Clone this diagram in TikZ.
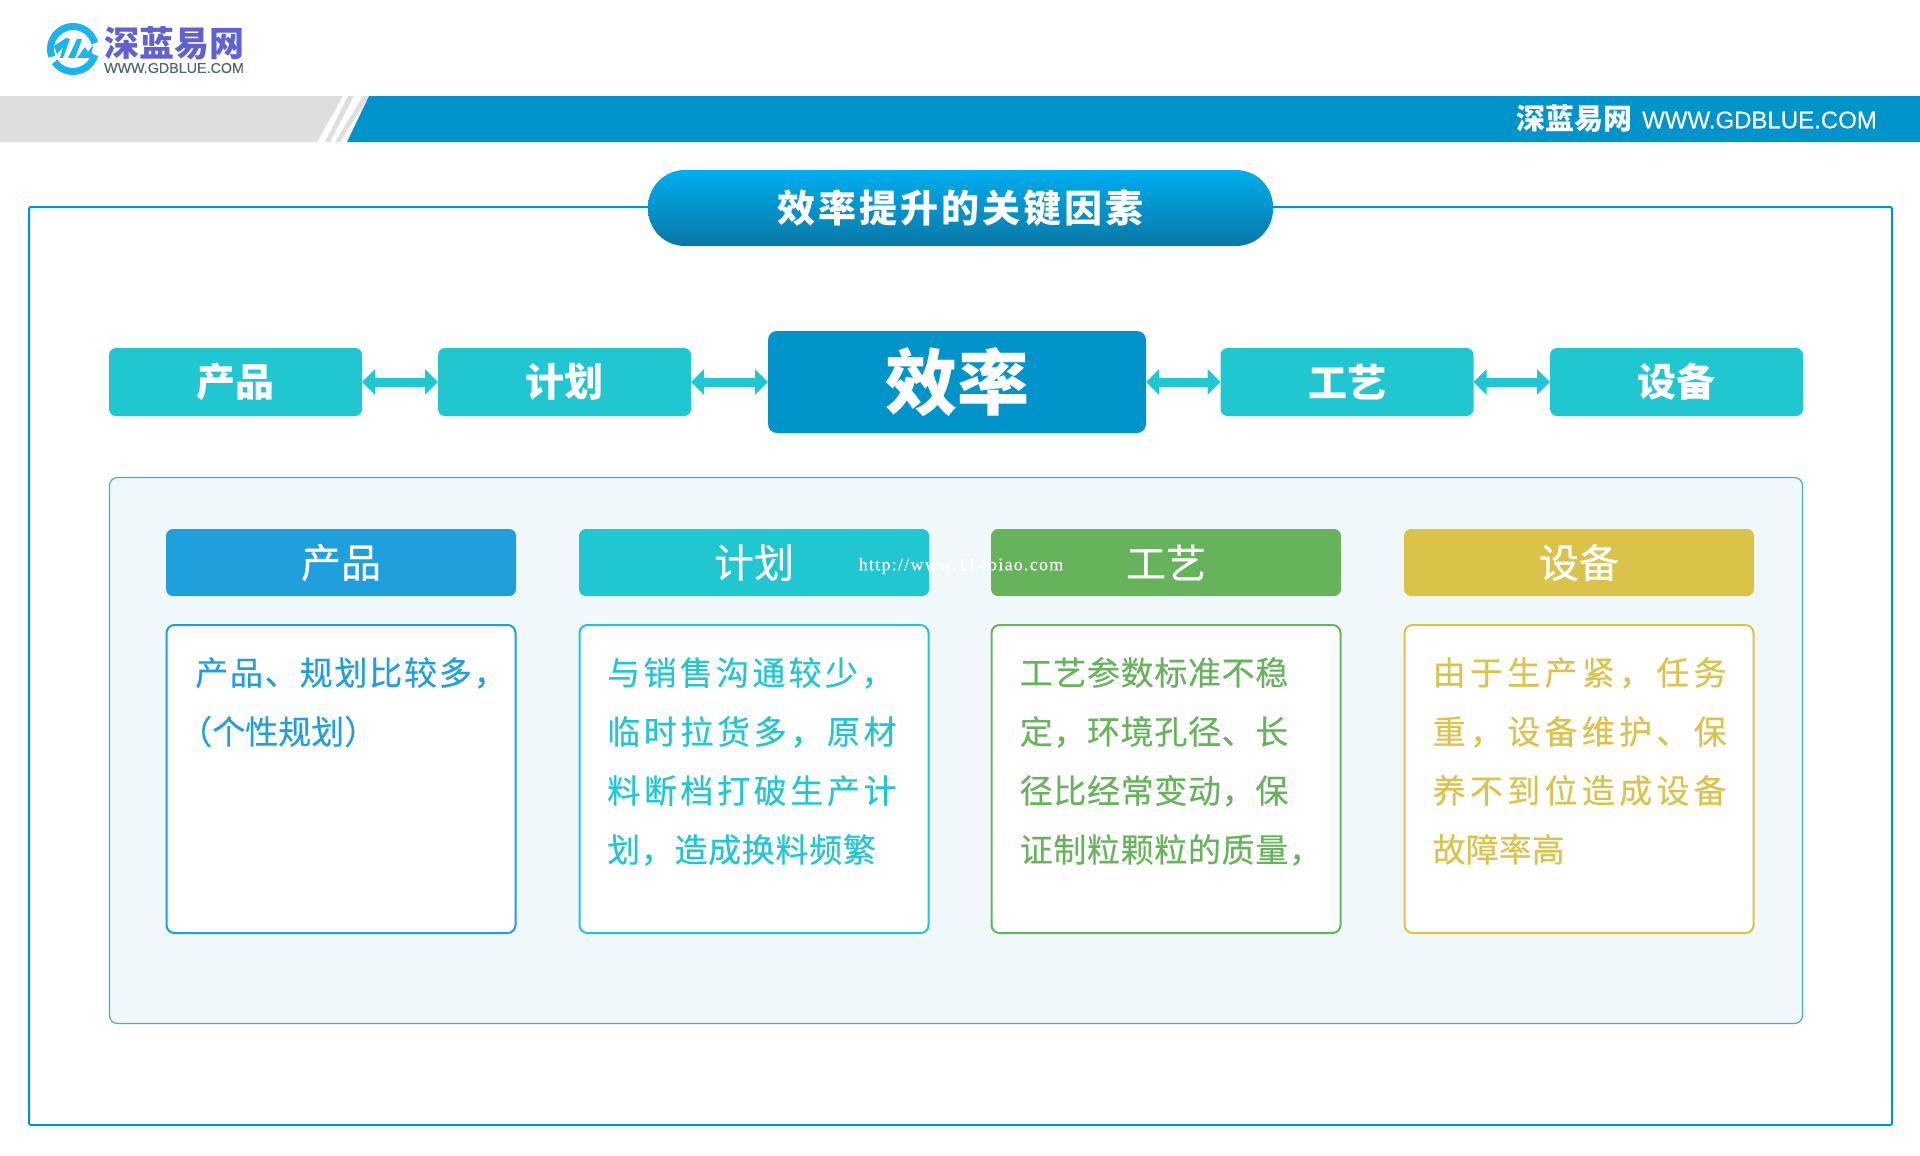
\documentclass[tikz,border=0pt]{standalone}
\usepackage{fontspec}
\setmainfont{Noto Sans CJK SC}
\newfontfamily\cjkbody[FakeBold=0.25]{Noto Sans CJK SC}
\newfontfamily\cjkhead[FakeBold=0.5]{Noto Sans CJK SC}
\newfontfamily\enfont[FakeBold=0.3]{Liberation Sans}
\newfontfamily\wmfont[LetterSpace=7,FakeBold=0.15]{Liberation Serif}
\usetikzlibrary{arrows.meta}
\definecolor{bandblue}{HTML}{0094CB}
\definecolor{teal1}{HTML}{20C7D1}
\definecolor{blue1}{HTML}{1FA0DD}
\definecolor{green1}{HTML}{66B35C}
\definecolor{yellow1}{HTML}{DBC34A}
\definecolor{logoblue}{HTML}{1AB4EE}
\definecolor{logopurple}{HTML}{6161D1}
\definecolor{logogrey}{HTML}{4F6670}
\definecolor{titletop}{HTML}{00AEEF}
\definecolor{titlebottom}{HTML}{0A78A6}
\definecolor{panelline}{HTML}{45ADCB}
\definecolor{panelfill}{HTML}{F1F8FC}
\newcommand{\spaced}[2]{{\addfontfeature{LetterSpace=#1}#2}}
\tikzset{
  topbox/.style={fill=teal1, rounded corners=7pt, minimum width=253pt, minimum height=68pt, inner sep=0pt, outer sep=0pt, text=white, font=\fontsize{39}{46}\selectfont\bfseries},
  headbox/.style={fill=#1, rounded corners=7pt, minimum width=350pt, minimum height=67pt, inner sep=0pt, outer sep=0pt, text=white, font=\cjkhead\fontsize{40}{46}\selectfont},
  bodybox/.style={draw=#1, fill=white, line width=2pt, rounded corners=8pt, minimum width=349pt, minimum height=308pt, inner sep=0pt},
  bodytext/.style={text=#1, anchor=north west, inner sep=0pt, align=left, font=\cjkbody\fontsize{33}{59}\selectfont},
  biarrow/.style={draw=teal1, line width=9pt, {Triangle[length=13pt,width=25pt]}-{Triangle[length=13pt,width=25pt]}},
}
\begin{document}
\begin{tikzpicture}[x=1pt,y=-1pt]
\useasboundingbox (0,0) rectangle (1920,1156);
% band
\fill[gray!26] (0,96)--(343,96)--(317,142)--(0,142)--cycle;
\fill[gray!26] (348,96)--(354,96)--(330,142)--(325,142)--cycle;
\fill[gray!26] (363,96)--(369,96)--(340,142)--(335,142)--cycle;
\fill[bandblue] (369,96)--(1920,96)--(1920,142)--(347,142)--cycle;
\node[text=white, font=\fontsize{29}{34}\selectfont\bfseries] (bandcn) at (1574,119) {深蓝易网};
\node[text=white, font=\enfont\fontsize{24}{30}\selectfont] (bandurl) at (1759.5,120) {WWW.GDBLUE.COM};
% logo
\draw[logoblue, line width=7pt] (73,49) +(-200:22.5) arc (-200:-15:22.5);
\draw[logoblue, line width=7pt] (73,49) +(-215:22.5) arc (-215:-345:22.5);
\fill[logoblue] (54,46)--(66,38)--(70,39)--(63,58)--(60,58)--(63,47)--(57,54)--cycle;
\fill[logoblue] (68,58)--(77,39)--(82,39)--(75,58)--cycle;
\fill[logoblue] (77,58)--(85,47)--(88,52)--(93,45)--(91,58)--cycle;
\node[text=logopurple, font=\fontsize{35}{40}\selectfont\bfseries] (logocn) at (174,43) {深蓝易网};
\node[text=logogrey, font=\enfont\fontsize{14.3}{18}\selectfont] (logourl) at (174,68) {WWW.GDBLUE.COM};
% frame and title
\draw[bandblue, line width=2pt, rounded corners=2pt] (29,207) rectangle (1892,1125);
\node[rounded corners=37pt, top color=titletop, bottom color=titlebottom, minimum width=625pt, minimum height=76pt, inner sep=0pt, text=white, font=\fontsize{38}{46}\selectfont\bfseries\addfontfeature{LetterSpace=8}] (title) at (960.5,208) {效率提升的关键因素};
% top row
\node[topbox] (prod) at (235.5,382) {产品};
\node[topbox] (plan) at (564.5,382) {计划};
\node[topbox, fill=bandblue, rounded corners=9pt, minimum width=378pt, minimum height=102pt, font=\fontsize{72}{80}\selectfont\bfseries] (eff) at (957,382) {效率};
\node[topbox] (craft) at (1347,382) {工艺};
\node[topbox] (equip) at (1676.5,382) {设备};
\foreach \a/\b in {prod/plan, plan/eff, eff/craft, craft/equip}
\draw[biarrow] (\a)--(\b);
% panel
\draw[draw=panelline, fill=panelfill, line width=1.2pt, rounded corners=8pt] (109.5,477.5) rectangle (1802.5,1023.5);
\foreach \n/\c/\x/\t in {a/blue1/341/产品, b/teal1/754/计划, c/green1/1166/工艺, d/yellow1/1579/设备}{
\node[headbox=\c] (head\n) at (\x,562.5) {\raisebox{-1pt}{\t}};
\node[bodybox=\c] (body\n) at (\x,779) {};
}
\node[bodytext=blue1] (texta) at (195,657) {\spaced{5.5}{产品、规划比较多，}\\\hspace*{-16pt}（个性规划）};
\node[bodytext=teal1] (textb) at (607,657) {\spaced{10}{与销售沟通较少，}\\\spaced{11}{临时拉货多，原材}\\\spaced{11}{料断档打破生产计}\\\spaced{2}{划，造成换料频繁}};
\node[bodytext=green1] (textc) at (1019.5,657) {\spaced{2}{工艺参数标准不稳}\\\spaced{2}{定，环境孔径、长}\\\spaced{2}{径比经常变动，保}\\\spaced{2}{证制粒颗粒的质量，}};
\node[bodytext=yellow1] (textd) at (1432.5,657) {\spaced{13}{由于生产紧，任务}\\\spaced{13}{重，设备维护、保}\\\spaced{13}{养不到位造成设备}\\故障率高};
% site mark
\node[text=white, font=\wmfont\fontsize{18}{20}\selectfont] (mark) at (961,566) {http://www.114biao.com};
\end{tikzpicture}
\end{document}
